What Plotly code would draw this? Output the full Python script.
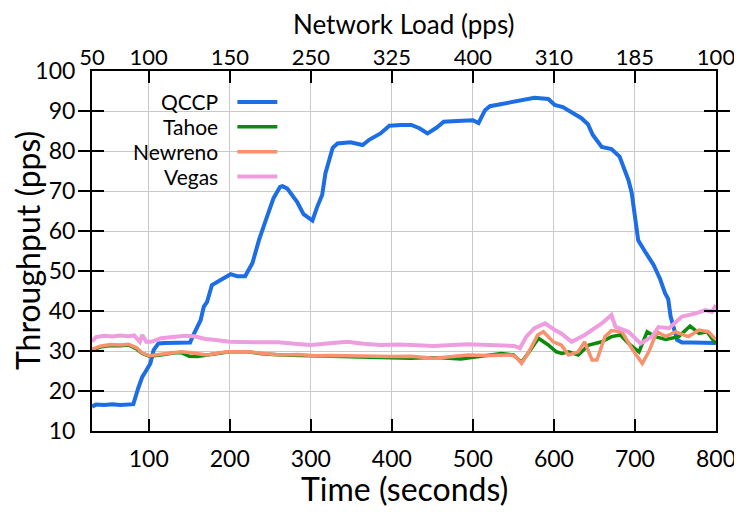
import plotly.graph_objects as go

# ---------------- data ----------------
qccp_t = [30, 35, 45, 55, 65, 75, 81, 87, 92, 96, 102, 106, 112, 120, 130, 140, 151, 155, 164, 168, 172,
          178, 188, 201, 209, 219, 228, 236, 246, 254, 262, 265, 271, 283, 291, 302, 308, 314, 318, 323,
          327, 333, 349, 364, 372, 386, 397, 411, 424, 434, 444, 455, 464, 480, 500, 507, 515, 521, 535,
          547, 560, 576, 593, 601, 611, 622, 634, 642, 648, 659, 671, 681, 692, 696, 700, 704, 712, 723,
          731, 737, 741, 744, 752, 758, 770, 785, 800]
qccp_v = [16.1, 16.6, 16.5, 16.7, 16.5, 16.7, 16.7, 20.7, 23.5, 24.8, 26.9, 30.2, 31.9, 32.0, 32.1, 32.0,
          32.1, 34.0, 37.7, 41.1, 42.3, 46.5, 47.8, 49.2, 48.7, 48.7, 52.0, 57.7, 63.6, 68.2, 71.0, 71.2,
          70.6, 67.3, 64.2, 62.6, 66.1, 69.0, 74.4, 78.5, 80.8, 81.9, 82.2, 81.5, 82.8, 84.4, 86.3, 86.5,
          86.5, 85.7, 84.4, 85.8, 87.3, 87.5, 87.7, 87.0, 90.2, 91.2, 91.7, 92.3, 92.8, 93.3, 93.0, 91.5,
          91.0, 89.6, 88.2, 86.7, 84.0, 81.0, 80.5, 78.6, 72.7, 69.5, 63.6, 57.7, 55.0, 51.5, 48.0, 44.5,
          43.0, 38.6, 32.8, 32.1, 32.1, 32.0, 32.0]

tahoe_t = [30, 40, 53, 65, 75, 85, 92, 101, 115, 130, 140, 150, 160, 172, 190, 200, 222, 240, 263, 285,
           304, 325, 345, 365, 380, 400, 423, 440, 460, 485, 510, 535, 550, 560, 568, 581, 593, 603, 610,
           618, 630, 643, 659, 671, 682, 692, 705, 715, 725, 738, 754, 768, 779, 789, 798, 800]
tahoe_v = [30.2, 31.0, 31.4, 31.3, 31.5, 30.5, 29.4, 28.7, 29.0, 29.5, 29.6, 28.7, 28.6, 29.0, 29.5, 29.8,
           29.8, 29.3, 29.0, 28.9, 28.7, 28.6, 28.7, 28.5, 28.4, 28.3, 28.2, 28.3, 28.3, 28.0, 28.6, 29.4,
           29.0, 27.2, 29.4, 33.2, 31.5, 29.8, 29.4, 29.8, 29.0, 31.5, 32.3, 33.6, 34.0, 31.9, 29.8, 34.8,
           33.6, 32.9, 33.6, 36.25, 34.4, 34.8, 32.3, 32.0]

newreno_t = [30, 40, 53, 65, 75, 85, 92, 101, 115, 130, 140, 150, 163, 172, 190, 200, 222, 240, 263, 285,
             304, 325, 345, 365, 380, 400, 423, 440, 452, 475, 494, 520, 547, 553, 560, 568, 580, 587, 599,
             609, 618, 630, 638, 647, 653, 663, 671, 684, 696, 709, 717, 727, 738, 750, 766, 779, 791, 798, 800]
newreno_v = [30.4, 31.2, 31.6, 31.5, 31.7, 30.8, 29.5, 28.8, 29.2, 29.6, 29.8, 29.6, 29.3, 29.0, 29.6, 29.8,
             29.8, 29.4, 29.0, 29.1, 28.8, 28.9, 28.8, 28.6, 28.5, 28.6, 28.7, 28.5, 28.2, 28.6, 29.0, 28.9,
             29.0, 28.6, 26.9, 29.4, 34.0, 34.8, 32.3, 31.5, 29.0, 29.8, 32.3, 27.75, 27.75, 33.6, 35.1, 34.8,
             30.7, 26.9, 29.8, 34.8, 33.6, 34.8, 33.6, 35.25, 34.8, 33.2, 33.0]

vegas_t = [30, 35, 45, 55, 65, 75, 82, 89, 92, 97, 103, 115, 130, 145, 156, 170, 180, 200, 230, 260, 280,
           300, 320, 345, 365, 386, 410, 430, 452, 475, 494, 520, 540, 551, 558, 566, 576, 589, 601, 609,
           622, 638, 659, 671, 676, 692, 707, 721, 729, 742, 758, 775, 787, 795, 800]
vegas_v = [32.4, 33.5, 33.8, 33.6, 33.9, 33.7, 33.9, 32.3, 34.0, 32.3, 32.3, 33.2, 33.5, 33.8, 33.7, 33.0,
           32.8, 32.3, 32.2, 32.2, 31.8, 31.5, 31.9, 32.3, 31.8, 31.5, 31.6, 31.4, 31.25, 31.5, 31.7, 31.5,
           31.4, 31.25, 30.7, 33.6, 35.7, 36.9, 35.25, 34.4, 32.3, 34.0, 36.9, 39.0, 36.0, 34.8, 31.9, 33.6,
           36.0, 35.7, 38.6, 39.4, 40.25, 39.8, 41.5]

x_ticks = [100, 200, 300, 400, 500, 600, 700, 800]
top_tickvals = [30, 100, 200, 300, 400, 500, 600, 700, 800]
top_ticktext = ["50", "100", "150", "250", "325", "400", "310", "185", "100"]
y_ticks = [10, 20, 30, 40, 50, 60, 70, 80, 90, 100]

series = [
    ("QCCP", qccp_t, qccp_v, "#1d6de5", 4),
    ("Tahoe", tahoe_t, tahoe_v, "#0a8c0a", 3.5),
    ("Newreno", newreno_t, newreno_v, "#f8916d", 3.5),
    ("Vegas", vegas_t, vegas_v, "#ee9ddf", 4),
]

FONT = "Lato, 'Open Sans', sans-serif"

fig = go.Figure()
for name, t, v, col, w in series:
    fig.add_trace(go.Scatter(x=t, y=v, mode="lines", name=name,
                             line=dict(color=col, width=w), showlegend=False))

# helper trace so the top axis exists
fig.add_trace(go.Scatter(x=[top_tickvals[0], top_tickvals[-1]], y=[None, None], xaxis="x2",
                         mode="lines", showlegend=False, hoverinfo="skip"))

# manual legend: text right-aligned, line sample on the right
leg_y = [0.914, 0.845, 0.776, 0.707]
for (name, t, v, col, w), yy in zip(series, leg_y):
    fig.add_annotation(x=0.204, y=yy, xref="paper", yref="paper", text=name, showarrow=False,
                       xanchor="right", yanchor="middle", borderpad=0,
                       font=dict(family=FONT, size=21, color="black"))
    fig.add_shape(type="line", xref="paper", yref="paper", x0=0.233, x1=0.297, y0=yy, y1=yy,
                  line=dict(color=col, width=w))

# axis titles as annotations (placed in the margins)
fig.add_annotation(x=0.5, y=1, xref="paper", yref="paper", text="Network Load (pps)", showarrow=False,
                   xanchor="center", yanchor="middle", yshift=47, borderpad=0,
                   font=dict(family=FONT, size=26))
fig.add_annotation(x=0.5, y=0, xref="paper", yref="paper", text="Time (seconds)", showarrow=False,
                   xanchor="center", yanchor="middle", yshift=-57, borderpad=0,
                   font=dict(family=FONT, size=32))
fig.add_annotation(x=0, y=0.5, xref="paper", yref="paper", text="Throughput (pps)", showarrow=False,
                   xanchor="center", yanchor="middle", xshift=-65, textangle=-90, borderpad=0,
                   font=dict(family=FONT, size=32))

# page body has an 8px margin, so the figure is 8px smaller and margins shifted
fig.update_layout(
    width=734, height=504,
    margin=dict(l=84, r=26, t=63, b=81),
    plot_bgcolor="white", paper_bgcolor="white",
    font=dict(family=FONT, size=23, color="black"),
    xaxis=dict(range=[30, 800], tickvals=x_ticks, ticks="inside", ticklen=12, tickwidth=2,
               tickcolor="black", showline=True, linecolor="black", linewidth=2, mirror="allticks",
               showgrid=True, gridcolor="#c9c9c9", gridwidth=1, zeroline=False, automargin=False,
               ticklabelstandoff=6, tickfont=dict(size=23)),
    xaxis2=dict(range=[30, 800], overlaying="x", side="top", anchor="y", tickvals=top_tickvals,
                ticktext=top_ticktext, ticks="", showgrid=False, showline=False, zeroline=False,
                automargin=False, ticklabelstandoff=1, tickfont=dict(size=22)),
    yaxis=dict(range=[10, 100], tickvals=y_ticks, ticks="inside", ticklen=12, tickwidth=2,
               tickcolor="black", showline=True, linecolor="black", linewidth=2, mirror="allticks",
               showgrid=True, gridcolor="#c9c9c9", gridwidth=1, zeroline=False, automargin=False,
               ticklabelstandoff=10, tickfont=dict(size=23)),
)

fig.write_html("out.html")
